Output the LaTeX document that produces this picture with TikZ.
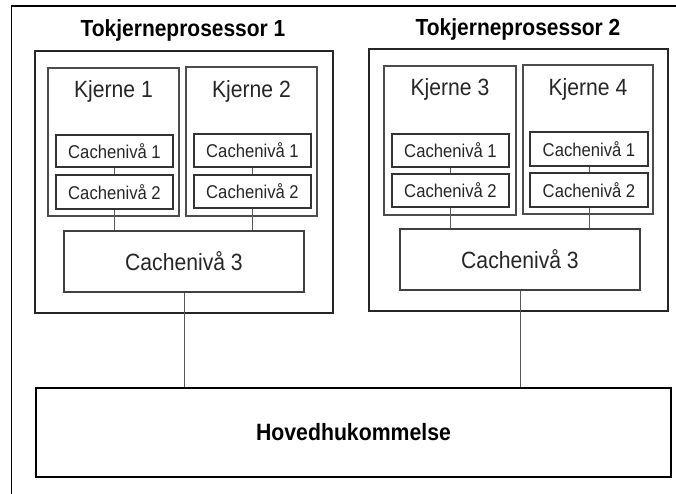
\documentclass[tikz,border=0pt]{standalone}
\usepackage{fontspec}
\setmainfont[FakeStretch=0.9]{Liberation Sans}
\begin{document}
\begin{tikzpicture}[x=1pt,y=-1pt,
  frame/.style={line width=1.8pt,draw=black},
  procbox/.style={draw=black!85,line width=1.6pt,inner sep=0pt},
  corebox/.style={draw=black!70,line width=1.2pt,inner sep=0pt},
  cachebox/.style={draw=black!80,line width=1.2pt,inner sep=0pt,
    font=\fontsize{18.5}{21}\selectfont,text=black!85},
  l3box/.style={draw=black!75,line width=1.2pt,inner sep=0pt,
    font=\fontsize{23.5}{26}\selectfont,text=black!85},
  membox/.style={draw=black,line width=1.8pt,inner sep=0pt,
    font=\bfseries\fontsize{23.6}{26}\selectfont},
  title/.style={font=\bfseries\fontsize{23.3}{26}\selectfont,inner sep=0pt},
  corelabel/.style={font=\fontsize{23.5}{26}\selectfont,text=black!85,inner sep=0pt},
  wire/.style={draw=black!65,line width=0.9pt}]
\useasboundingbox (0,0) rectangle (676,494);

% page frame (left and top edges only)
\coordinate (fb) at (11.5,494);
\coordinate (fc) at (11.5,6);
\coordinate (fr) at (676,6);
\draw[frame] (fb) -- (fc) -- (fr);

% processor packages
\node[procbox,minimum width=298,minimum height=262] (p1) at (184,182) {};
\node[procbox,minimum width=299,minimum height=262] (p2) at (518.5,180) {};
\node[title] (t1) at (183,30) {Tokjerneprosessor 1};
\node[title] (t2) at (518,29) {Tokjerneprosessor 2};

% cores
\node[corebox,minimum width=131,minimum height=148] (k1) at (113.5,142) {};
\node[corebox,minimum width=131,minimum height=149] (k2) at (251.5,141.5) {};
\node[corebox,minimum width=132,minimum height=149] (k3) at (450,140.5) {};
\node[corebox,minimum width=130,minimum height=149] (k4) at (588,139.5) {};
\node[corelabel] (k1l) at (113.5,91) {Kjerne 1};
\node[corelabel] (k2l) at (251.5,91) {Kjerne 2};
\node[corelabel] (k3l) at (450,89) {Kjerne 3};
\node[corelabel] (k4l) at (588,89) {Kjerne 4};

% private caches
\node[cachebox,minimum width=117,minimum height=32] (k1c1) at (114.5,151) {Cachenivå 1};
\node[cachebox,minimum width=117,minimum height=34] (k1c2) at (114.5,192) {Cachenivå 2};
\node[cachebox,minimum width=117,minimum height=33] (k2c1) at (252.5,150.5) {Cachenivå 1};
\node[cachebox,minimum width=117,minimum height=33] (k2c2) at (252.5,191.5) {Cachenivå 2};
\node[cachebox,minimum width=117,minimum height=33] (k3c1) at (450.5,150.5) {Cachenivå 1};
\node[cachebox,minimum width=117,minimum height=33] (k3c2) at (450.5,190.5) {Cachenivå 2};
\node[cachebox,minimum width=118,minimum height=34] (k4c1) at (589,149) {Cachenivå 1};
\node[cachebox,minimum width=118,minimum height=34] (k4c2) at (589,190) {Cachenivå 2};

% shared caches
\node[l3box,minimum width=240,minimum height=61] (l3a) at (184,261.5) {Cachenivå 3};
\node[l3box,minimum width=240,minimum height=61] (l3b) at (520,259.5) {Cachenivå 3};

% main memory
\node[membox,minimum width=635,minimum height=89] (mem) at (353.5,432.5) {Hovedhukommelse};

% connections
\foreach \k/\l in {k1/l3a,k2/l3a,k3/l3b,k4/l3b}{
  \draw[wire] (\k c1.south) -- (\k c2.north);
  \draw[wire] (\k c2.south) -- (\k c2.south |- \l.north);
}
\draw[wire] (l3a.south) -- (l3a.south |- mem.north);
\draw[wire] (l3b.south) -- (l3b.south |- mem.north);
\end{tikzpicture}
\end{document}
